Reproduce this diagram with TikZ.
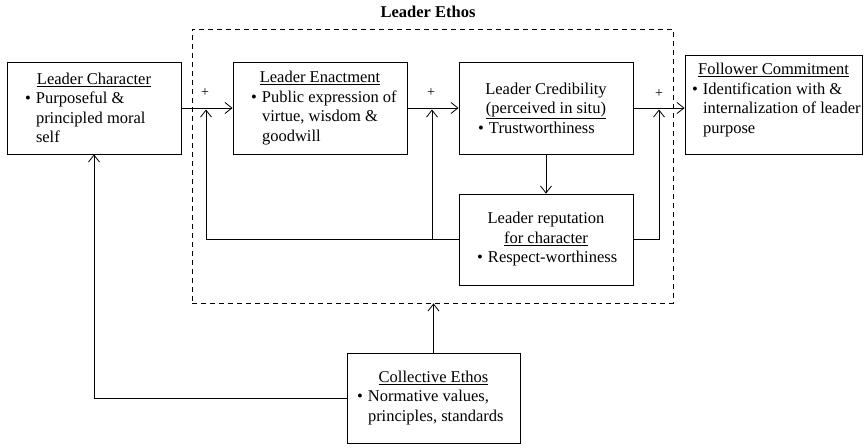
\documentclass[tikz,border=0pt]{standalone}
\usepackage{fontspec}
\setmainfont{Liberation Serif}
\usetikzlibrary{arrows.meta,calc}
\newcommand{\ttl}[1]{{\centering #1\par}}
\newcommand{\bitem}[1]{{\raggedright\leftskip=11pt\rightskip=-60pt plus 1fil\noindent\llap{\makebox[11pt][l]{\textbullet}}#1\par}}
\begin{document}
\begin{tikzpicture}[x=1pt,y=-1pt,
  box/.style={draw, line width=0.8pt, inner sep=0pt, font=\fontsize{16.5}{19.5}\selectfont},
  conn/.style={line width=0.8pt},
  arr/.style={conn, -{Straight Barb[length=7pt,width=11pt]}},
  plus/.style={font=\fontsize{14}{16}\selectfont, inner sep=0pt},
  ethosbox/.style={draw, line width=0.8pt, dash pattern=on 5pt off 4pt, inner sep=0pt}]
\useasboundingbox (0,0) rectangle (867,447);

% dashed Leader Ethos region
\node[ethosbox, minimum width=481pt, minimum height=274pt] (ethos) at (432.5,166) {};
\node[font=\bfseries\fontsize{16.5}{19}\selectfont, inner sep=0pt] (ethoslbl) at (428,12) {Leader Ethos};

% boxes
\node[box, minimum width=174pt, minimum height=92pt] (lc) at (94,108)
  {\parbox{138pt}{\ttl{\underline{Leader Character}}\bitem{Purposeful \&\\ principled moral\\ self}}};
\node[box, minimum width=174pt, minimum height=92pt] (le) at (320,108)
  {\parbox{138pt}{\ttl{\underline{Leader Enactment}}\bitem{Public expression of\\ virtue, wisdom \&\\ goodwill}}};
\node[box, minimum width=174pt, minimum height=92pt] (cred) at (546,108)
  {\parbox{136pt}{\ttl{Leader Credibility\\ \underline{(perceived in situ)}}\bitem{Trustworthiness}}};
\node[box, minimum width=177pt, minimum height=99pt] (fc) at (773.5,104.5)
  {\parbox{163pt}{\ttl{\underline{Follower Commitment}}\bitem{Identification with \&\\ internalization of leader\\ purpose}\vspace{9pt}}};
\node[box, minimum width=174pt, minimum height=91pt] (rep) at (546,239.5)
  {\parbox{138pt}{\ttl{Leader reputation\\ \underline{for character}}\bitem{Respect-worthiness}}};
\node[box, minimum width=173pt, minimum height=90pt] (ce) at (433.5,398)
  {\parbox{153pt}{\ttl{\underline{Collective Ethos}}\bitem{Normative values,\\ principles, standards}}};

% feedback tips
\coordinate (tipA) at (206,109.5);
\coordinate (tipB) at (432,109.5);
\coordinate (tipC) at (659,109.5);

% connectors
\draw[arr] (lc.east) -- (le.west);
\draw[arr] (le.east) -- (cred.west);
\draw[arr] (cred.east) -- (cred.east -| fc.west);
\draw[arr] (cred.south) -- (rep.north);
\draw[arr] (rep.west) -| (tipA);
\draw[arr] (rep.west -| tipB) -- (tipB);
\draw[arr] (rep.east) -| (tipC);
\draw[arr] (ce.north) -- (ce.north |- ethos.south);
\draw[arr] (ce.west) -| (lc.south);

% plus signs
\node[plus] (p1) at (205,93) {+};
\node[plus] (p2) at (431,93) {+};
\node[plus] (p3) at (659,94) {+};
\end{tikzpicture}
\end{document}
